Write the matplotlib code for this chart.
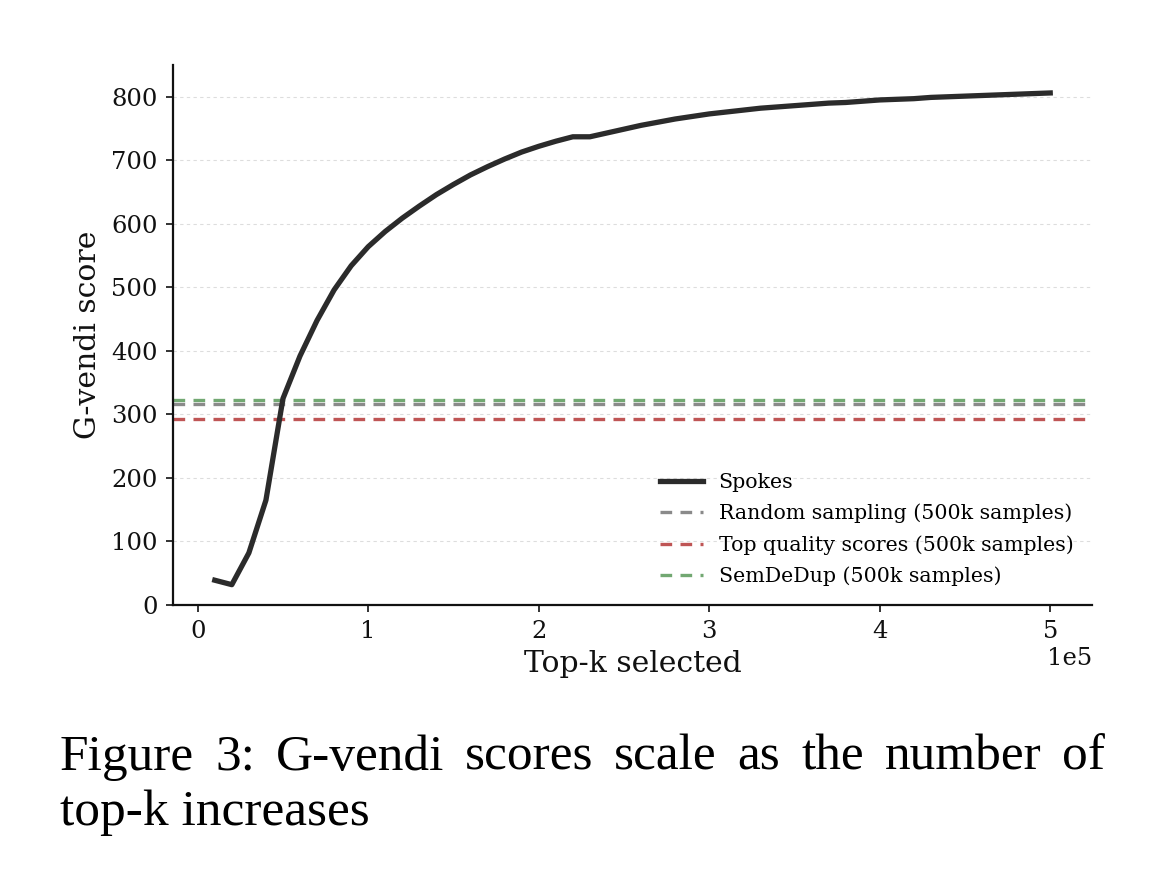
import matplotlib
matplotlib.use("Agg")
import matplotlib.pyplot as plt
import numpy as np

# ---- data ----
topk = [10000, 20000, 30000, 40000, 50000, 60000, 70000, 80000, 90000, 100000,
        110000, 120000, 130000, 140000, 150000, 160000, 170000, 180000, 190000, 200000,
        210000, 220000, 230000, 240000, 250000, 260000, 270000, 280000, 290000, 300000,
        310000, 320000, 330000, 340000, 350000, 360000, 370000, 380000, 390000, 400000,
        410000, 420000, 430000, 440000, 450000, 460000, 470000, 480000, 490000, 500000]
spokes = [39, 32, 82, 165, 325, 392, 448, 496, 534, 564,
          588, 609, 628, 646, 662, 677, 690, 702, 713, 722,
          730, 737, 737, 743, 749, 755, 760, 765, 769, 773,
          776, 779, 782, 784, 786, 788, 790, 791, 793, 795,
          796, 797, 799, 800, 801, 802, 803, 804, 805, 806]
random_sampling = 316
top_quality = 292
semdedup = 322

legend_labels = ["Spokes", "Random sampling (500k samples)",
                 "Top quality scores (500k samples)", "SemDeDup (500k samples)"]

caption_lines = ["Figure 3: G-vendi scores scale as the number of",
                 "top-k increases"]

# ---- figure ----
W, H = 1164, 892
fig = plt.figure(figsize=(W / 100, H / 100), dpi=100)
ax = fig.add_axes([173 / W, 1 - 605 / H, (1092 - 173) / W, (605 - 65) / H])

serif = ["DejaVu Serif"]

ax.plot(topk, spokes, color="#2b2b2b", lw=3.8, label=legend_labels[0], zorder=3)
ax.axhline(random_sampling, color="#8a8a8a", lw=2.4, dashes=(3.5, 2.5),
           label=legend_labels[1], zorder=2)
ax.axhline(top_quality, color="#bf5555", lw=2.4, dashes=(3.5, 2.5),
           label=legend_labels[2], zorder=2)
ax.axhline(semdedup, color="#72a872", lw=2.4, dashes=(3.5, 2.5),
           label=legend_labels[3], zorder=1)

ax.set_ylim(0, 850)
ax.margins(x=0.05)
ax.set_yticks([0, 100, 200, 300, 400, 500, 600, 700, 800])
ax.set_xticks([0, 100000, 200000, 300000, 400000, 500000])
ax.set_xticklabels(["0", "1", "2", "3", "4", "5"])

ax.yaxis.grid(True, color="#dddddd", lw=0.8, ls=(0, (3, 3)))
ax.set_axisbelow(True)
for s in ["top", "right"]:
    ax.spines[s].set_visible(False)
for s in ["left", "bottom"]:
    ax.spines[s].set_linewidth(1.6)
    ax.spines[s].set_color("#111111")

ax.tick_params(axis="both", labelsize=17.5, length=5, width=1.2, pad=6,
               colors="#111111")
for lab in ax.get_xticklabels() + ax.get_yticklabels():
    lab.set_family(serif)

ax.set_xlabel("Top-k selected", fontsize=21.5, family=serif, labelpad=5, color="#111111")
ax.set_ylabel("G-vendi score", fontsize=21.5, family=serif, labelpad=7, color="#111111")
ax.text(1.0, -0.078, "1e5", transform=ax.transAxes, ha="right", va="top",
        fontsize=17.5, family=serif, color="#111111")

leg = ax.legend(loc="lower right", bbox_to_anchor=(1.0, 0.0), frameon=False,
                prop={"family": serif, "size": 14.8}, handlelength=2.1,
                labelspacing=0.58, handletextpad=0.75)

# caption (line 1 justified to the text block width)
cap_font = dict(fontsize=37, family="Liberation Serif", color="black")
left_px, right_px = 60, 1105
fig.canvas.draw()
renderer = fig.canvas.get_renderer()
words = caption_lines[0].split(" ")
widths = []
tmp = []
for w in words:
    t = fig.text(0, 0, w, **cap_font)
    bb = t.get_window_extent(renderer)
    widths.append(bb.width)
    tmp.append(t)
for t in tmp:
    t.remove()
gap = (right_px - left_px - sum(widths)) / (len(words) - 1)
x = left_px
for w, wd in zip(words, widths):
    fig.text(x / W, 1 - 770 / H, w, ha="left", va="baseline", **cap_font)
    x += wd + gap
fig.text(left_px / W, 1 - 825 / H, caption_lines[1], ha="left", va="baseline", **cap_font)

fig.savefig("out.png", dpi=100, facecolor="white")
